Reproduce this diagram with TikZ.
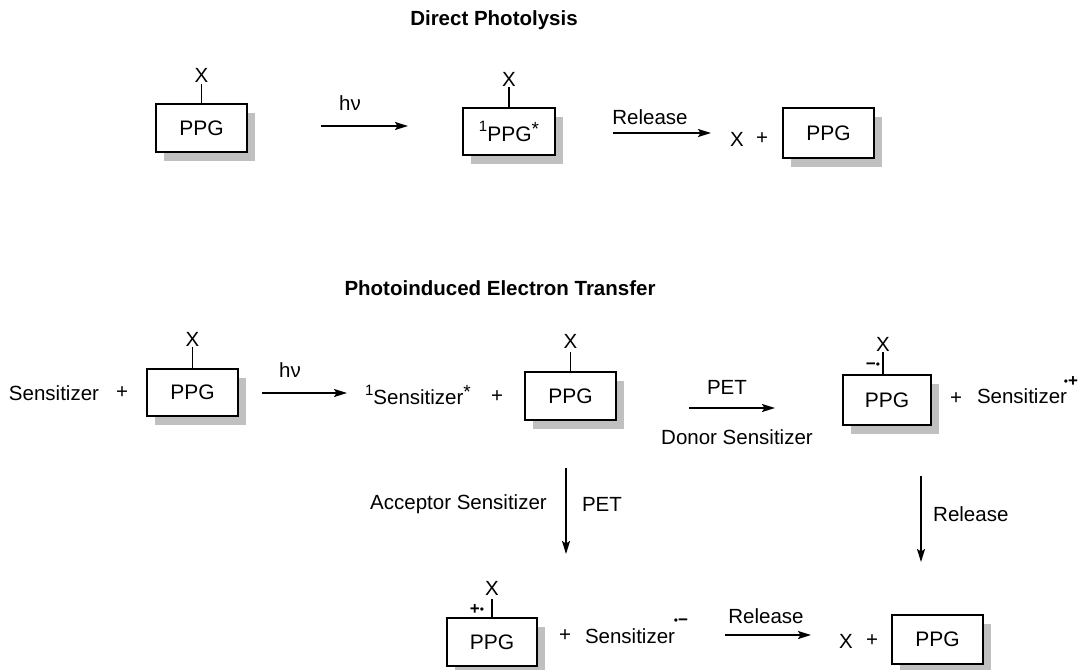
\documentclass[tikz,border=0pt]{standalone}
\usepackage{fontspec}
\setmainfont{Liberation Sans}
\usetikzlibrary{arrows.meta,shadows}
\definecolor{shadowgray}{RGB}{192,192,192}
\tikzset{
  txt/.style={inner sep=0pt, font=\fontsize{20.5}{24}\selectfont},
  ttl/.style={inner sep=0pt, font=\fontsize{20.5}{24}\selectfont\bfseries},
  ppg/.style={draw, line width=1.7pt, fill=white, minimum width=91pt, minimum height=48pt,
    inner sep=0pt, font=\fontsize{21}{24}\selectfont,
    drop shadow={shadow xshift=8pt, shadow yshift=-9pt, fill=shadowgray, opacity=1}},
  stem/.style={line width=1.1pt},
  rxn/.style={line width=1.6pt, -{Stealth[length=13pt,width=8pt,inset=2.5pt]}},
  rad/.style={inner sep=0pt},
}
\newcommand{\rdot}{{\fontsize{12}{12}\selectfont\raisebox{0.2ex}{•}}}
\newcommand{\rplus}{{\fontsize{17}{17}\selectfont\bfseries +}}
\newcommand{\rminus}{{\fontsize{17}{17}\selectfont\bfseries −}}
\newcommand{\supone}{\raisebox{0.9ex}{\fontsize{15}{15}\selectfont 1}}
\newcommand{\supstar}{\raisebox{0.55ex}{\fontsize{19}{19}\selectfont *}}
\begin{document}
\begin{tikzpicture}[x=1pt,y=-1pt]
\useasboundingbox (0,0) rectangle (1081,669);

% ---------- Direct photolysis ----------
\node[ttl] (t1) at (494,20) {Direct Photolysis};

\node[ppg] (b1) at (201.5,128) {PPG};
\draw[stem] (b1.north) -- ++(0,-19);
\node[txt] (x1) at ([yshift=28pt]b1.north) {X};

\coordinate (h1a) at (321,126);
\coordinate (h1b) at (408,126);
\draw[rxn] (h1a) -- (h1b);
\node[txt] (hv1) at (350,103) {hν};

\node[ppg, minimum width=92pt, minimum height=47pt] (b2) at (509,131.5) {\supone PPG\supstar};
\draw[stem] (b2.north) -- ++(0,-20);
\node[txt] (x2) at ([yshift=28pt]b2.north) {X};

\coordinate (r1a) at (613,133);
\coordinate (r1b) at (711,133);
\draw[rxn] (r1a) -- (r1b);
\node[txt] (rel1) at (650,117) {Release};

\node[txt] (x3) at (737,139) {X};
\node[txt] (p1) at (762,139) {+};
\node[ppg, minimum height=50pt] (b3) at (828.5,133) {PPG};

% ---------- Photoinduced electron transfer ----------
\node[ttl] (t2) at (500,288) {Photoinduced Electron Transfer};

\node[txt] (sen1) at (54,393) {Sensitizer};
\node[txt] (p2) at (122,393) {+};
\node[ppg, minimum height=47pt] (b4) at (192.5,392.5) {PPG};
\draw[stem] (b4.north) -- ++(0,-21);
\node[txt] (x4) at ([yshift=29pt]b4.north) {X};

\coordinate (h2a) at (262,393);
\coordinate (h2b) at (347,393);
\draw[rxn] (h2a) -- (h2b);
\node[txt] (hv2) at (290,370) {hν};

\node[txt] (sen2) at (418,395) {\supone Sensitizer\supstar};
\node[txt] (p3) at (497,397) {+};
\node[ppg] (b5) at (570.5,396) {PPG};
\draw[stem] (b5.north) -- ++(0,-19);
\node[txt] (x5) at ([yshift=30pt]b5.north) {X};

\coordinate (pa) at (689,408);
\coordinate (pb) at (775,408);
\draw[rxn] (pa) -- (pb);
\node[txt] (pet1) at (727,387) {PET};
\node[txt] (don) at (737,437) {Donor Sensitizer};

\node[ppg, minimum width=88pt, minimum height=50pt] (b6) at (887,400) {PPG};
\draw[stem] ([xshift=-4pt]b6.north) -- ++(0,-22);
\node[txt] (x6) at ([xshift=-4pt,yshift=30pt]b6.north) {X};
\node[rad] (rad6) at (873,366) {\rminus\rdot};
\node[txt] (p4) at (956,399) {+};
\node[txt] (sen3) at (1022,396) {Sensitizer};
\node[rad] (rad3) at (1071,382) {\rdot\rplus};

\coordinate (da) at (921,476);
\coordinate (db) at (921,562);
\draw[rxn] (da) -- (db);
\node[txt, anchor=west] (rel2) at (933,514) {Release};

\coordinate (aa) at (566,468);
\coordinate (ab) at (566,554);
\draw[rxn] (aa) -- (ab);
\node[txt, anchor=east] (acc) at (547,504) {Acceptor Sensitizer};
\node[txt] (pet2) at (602,504) {PET};

\node[ppg, minimum width=90pt] (b7) at (492,642) {PPG};
\draw[stem] (b7.north) -- ++(0,-18);
\node[txt] (x7) at ([yshift=29pt]b7.north) {X};
\node[rad] (rad7) at (477,610) {\rplus\rdot};
\node[txt] (p5) at (565,636) {+};
\node[txt] (sen4) at (630,636) {Sensitizer};
\node[rad] (rad4) at (681,622) {\rdot\rminus};

\coordinate (r2a) at (725,635);
\coordinate (r2b) at (811,635);
\draw[rxn] (r2a) -- (r2b);
\node[txt] (rel3) at (766,616) {Release};

\node[txt] (x8) at (846,641) {X};
\node[txt] (p6) at (872,641) {+};
\node[ppg, minimum height=49pt] (b8) at (937.5,639.5) {PPG};
\end{tikzpicture}
\end{document}
